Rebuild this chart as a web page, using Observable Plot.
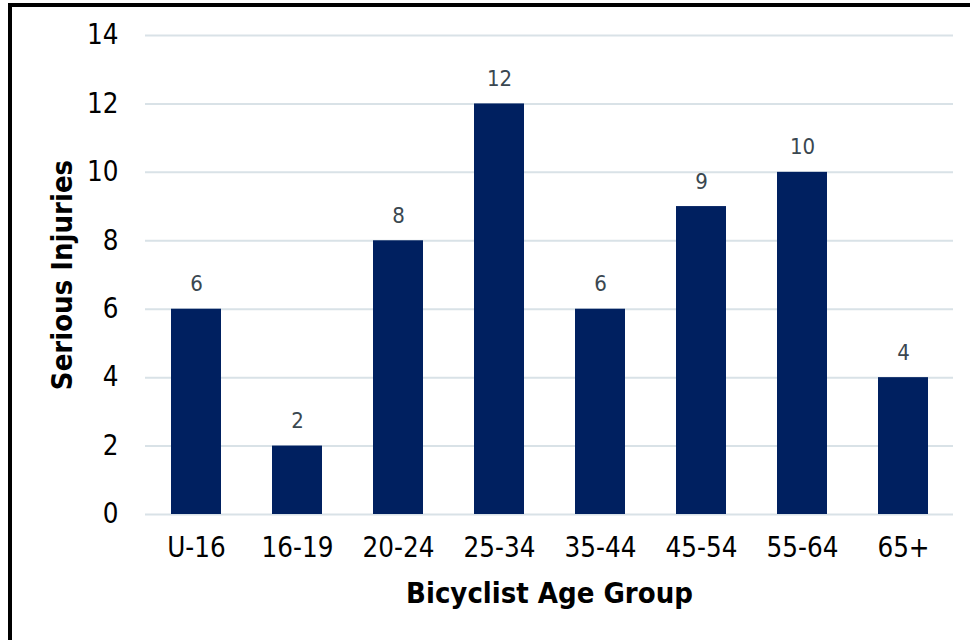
<!DOCTYPE html>
<html>
<head>
<meta charset="utf-8">
<script src="https://cdn.jsdelivr.net/npm/d3@7"></script>
<script src="https://cdn.jsdelivr.net/npm/@observablehq/plot@0.6"></script>
<style>
  html, body { margin: 0; padding: 0; background: #fff; overflow: hidden; }
  #wrap { position: relative; width: 970px; height: 640px; }
  #frame { position: absolute; left: 8px; top: 3px; width: 1000px; height: 700px; border: 4px solid #000; box-sizing: border-box; pointer-events: none; }
</style>
</head>
<body>
<div id="wrap"><div id="chart"></div><div id="frame"></div></div>
<script>
const ageGroups = ["U-16", "16-19", "20-24", "25-34", "35-44", "45-54", "55-64", "65+"];
const injuries = [6, 2, 8, 12, 6, 9, 10, 4];
const yTicks = [0, 2, 4, 6, 8, 10, 12, 14];
const xTitle = "Bicyclist Age Group";
const yTitle = "Serious Injuries";

const data = ageGroups.map((g, i) => ({group: g, value: injuries[i]}));
const font = "'DejaVu Sans Condensed', 'DejaVu Sans', sans-serif";

const chart = Plot.plot({
  width: 970,
  height: 640,
  marginLeft: 145,
  marginRight: 17,
  marginTop: 35,
  marginBottom: 126,
  style: {fontFamily: font, background: "transparent"},
  x: {domain: ageGroups, paddingInner: 0.505, paddingOuter: 0.25, label: null},
  y: {domain: [0, 14], label: null},
  marks: [
    Plot.gridY(yTicks, {stroke: "#d9e2e7", strokeOpacity: 1, strokeWidth: 2}),
    Plot.barY(data, {x: "group", y: "value", fill: "#002060"}),
    Plot.text(data, {x: "group", y: "value", text: d => String(d.value), dy: -25, fill: "#3a4750", fontSize: 22}),
    Plot.axisY(yTicks, {tickSize: 0, tickPadding: 27, fontSize: 27.5, fill: "#000", label: null}),
    Plot.axisX({tickSize: 0, tickPadding: 23, fontSize: 27.5, fill: "#000", label: null}),
    Plot.text([xTitle], {frameAnchor: "bottom", dy: 79, textAnchor: "middle", lineAnchor: "middle", text: d => d, fontSize: 29, fontWeight: "bold", fill: "#000"}),
    Plot.text([yTitle], {frameAnchor: "left", dx: -83, rotate: -90, textAnchor: "middle", lineAnchor: "middle", text: d => d, fontSize: 29, fontWeight: "bold", fill: "#000"})
  ]
});
document.getElementById("chart").appendChild(chart);
</script>
</body>
</html>
